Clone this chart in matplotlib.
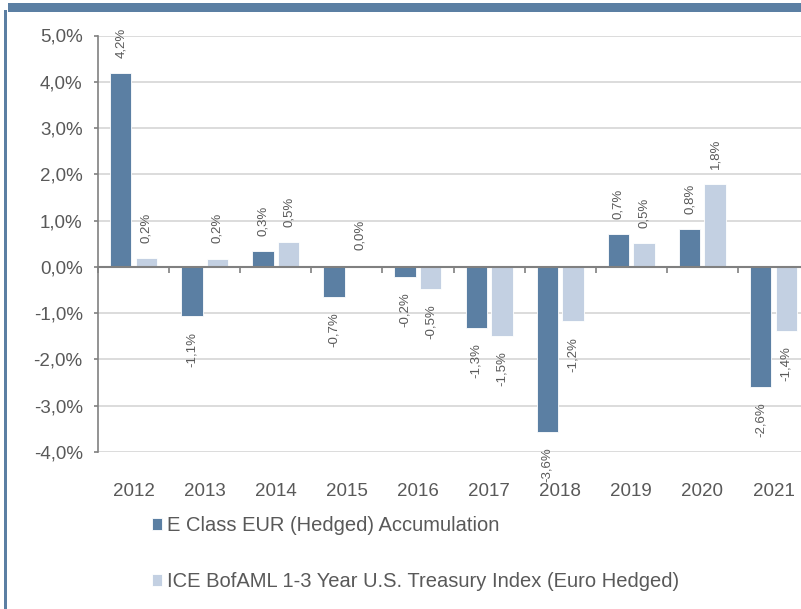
import numpy as np
import matplotlib
matplotlib.use('Agg')
import matplotlib.pyplot as plt
from matplotlib.patches import Rectangle

plt.rcParams['font.family'] = ['Liberation Sans', 'DejaVu Sans']

years = ['2012', '2013', '2014', '2015', '2016', '2017', '2018', '2019', '2020', '2021']
fund = [4.18, -1.07, 0.34, -0.64, -0.21, -1.32, -3.57, 0.70, 0.81, -2.60]
index = [0.19, 0.18, 0.54, 0.03, -0.48, -1.50, -1.18, 0.52, 1.79, -1.39]
fund_labels = ['4,2%', '-1,1%', '0,3%', '-0,7%', '-0,2%', '-1,3%', '-3,6%', '0,7%', '0,8%', '-2,6%']
index_labels = ['0,2%', '0,2%', '0,5%', '0,0%', '-0,5%', '-1,5%', '-1,2%', '0,5%', '1,8%', '-1,4%']
series_names = ['E Class EUR (Hedged) Accumulation',
                'ICE BofAML 1-3 Year U.S. Treasury Index (Euro Hedged)']
yticks = [-4, -3, -2, -1, 0, 1, 2, 3, 4, 5]

dark = '#5b7fa3'
light = '#c3d0e2'
txt = '#595959'

fig = plt.figure(figsize=[8.01, 6.09], dpi=100)
# frame decoration: top band and left border
fig.add_artist(Rectangle((8/801, 1-12/609), 1, 9/609, transform=fig.transFigure,
                         facecolor=dark, edgecolor='none'))
fig.add_artist(Rectangle((4/801, 0), 3/801, 1-10/609, transform=fig.transFigure,
                         facecolor=dark, edgecolor='none'))

ax = fig.add_axes([98/801, 1-452/609, 711/801, 416.5/609])
x = np.arange(len(years))
w = 0.3
off = 0.18
b1 = ax.bar(x-off, fund, w, color=dark, edgecolor='white', linewidth=0.6, zorder=3, label=series_names[0])
b2 = ax.bar(x+off, index, w, color=light, edgecolor='white', linewidth=0.6, zorder=3, label=series_names[1])

for bars, labs in [(b1, fund_labels), (b2, index_labels)]:
    for rect, lab in zip(bars, labs):
        h = rect.get_height()
        xc = rect.get_x() + rect.get_width()/2
        if h >= 0:
            ax.annotate(lab, (xc, h), xytext=(0, 11), textcoords='offset points',
                        rotation=90, ha='center', va='bottom', fontsize=9.5, color=txt)
        else:
            ax.annotate(lab, (xc, h), xytext=(0, -11), textcoords='offset points',
                        rotation=90, ha='center', va='top', fontsize=9.5, color=txt)

ax.set_xlim(-0.5, len(years)-0.5)
ax.set_ylim(-4, 5)
ax.set_yticks(yticks)
ax.set_yticklabels(['{:.1f}%'.format(v).replace('.', ',') for v in yticks])
ax.yaxis.grid(True, color='#d9d9d9', linewidth=1.3, zorder=0)
ax.set_axisbelow(True)

for s in ['top', 'right']:
    ax.spines[s].set_visible(False)
ax.spines['left'].set_color('#808080')
ax.spines['left'].set_linewidth(1.2)
ax.spines['bottom'].set_position(('data', 0))
ax.spines['bottom'].set_color('#808080')
ax.spines['bottom'].set_linewidth(1.5)
ax.spines['bottom'].set_zorder(4)

ax.set_xticks(np.arange(len(years)+1)-0.5)
ax.set_xticklabels([])
ax.tick_params(axis='x', length=4, width=1.2, color='#808080', direction='out')
ax.tick_params(axis='y', length=3, width=1.2, color='#808080', labelsize=13.5,
               labelcolor=txt, pad=8)

sec = ax.secondary_xaxis(0)
sec.set_xticks(x)
sec.set_xticklabels(years)
sec.tick_params(length=0, labelsize=13.5, labelcolor=txt, pad=22)
sec.spines['bottom'].set_visible(False)

fig.legend(handles=[b1, b2], labels=series_names, loc='upper left',
           bbox_to_anchor=(152/801, 1-516/609), frameon=False, fontsize=14.5,
           labelcolor=txt, handlelength=0.5, handleheight=0.5, handletextpad=0.25,
           labelspacing=1.85, borderpad=0, borderaxespad=0)

plt.savefig('out.png', dpi=100)
